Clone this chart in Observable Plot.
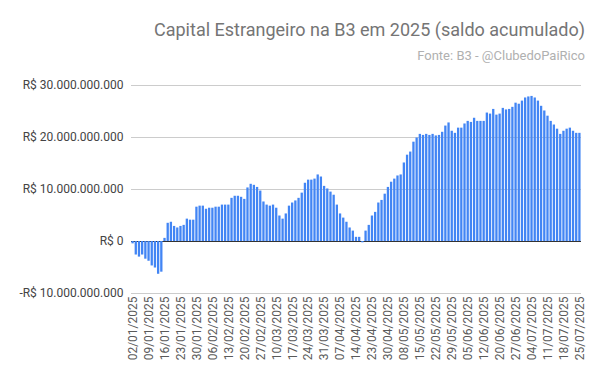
<!DOCTYPE html>
<html>
<head>
<meta charset="utf-8">
<script src="https://cdn.jsdelivr.net/npm/d3@7"></script>
<script src="https://cdn.jsdelivr.net/npm/@observablehq/plot@0.6"></script>
<style>
  html, body { margin: 0; padding: 0; background: #fff; }
  #wrap { position: relative; width: 600px; height: 385px; font-family: Roboto, sans-serif; overflow: hidden; }
  #title { position: absolute; right: 15px; top: 19px; font-size: 18px; color: #757575; white-space: nowrap; }
  #subtitle { position: absolute; right: 15px; top: 48px; font-size: 13px; color: #b0b0b0; white-space: nowrap; }
  #chart { position: absolute; left: 0; top: 0; }
</style>
</head>
<body>
<div id="wrap">
  <div id="chart"></div>
  <div id="title">Capital Estrangeiro na B3 em 2025 (saldo acumulado)</div>
  <div id="subtitle">Fonte: B3 - @ClubedoPaiRico</div>
</div>
<script>
// Trading days (B3) per month, 2025
const janDays = ["02","03","06","07","08","09","10","13","14","15","16","17","20","21","22","23","24","27","28","29","30","31"];
const febDays = ["03","04","05","06","07","10","11","12","13","14","17","18","19","20","21","24","25","26","27","28"];
const marDays = ["05","06","07","10","11","12","13","14","17","18","19","20","21","24","25","26","27","28","31"];
const aprDays = ["01","02","03","04","07","08","09","10","11","14","15","16","17","22","23","24","25","28","29","30"];
const mayDays = ["02","05","06","07","08","09","12","13","14","15","16","19","20","21","22","23","26","27","28","29","30"];
const junDays = ["02","03","04","05","06","09","10","11","12","13","16","17","18","20","23","24","25","26","27","30"];
const julDays = ["01","02","03","04","07","08","09","10","11","14","15","16","17","18","21","22","23","24","25"];

// Cumulative balance, in billions of R$
const saldoBi = [
  -0.45, -2.6, -3.0, -2.6, -3.4, -3.8, -4.7, -5.1, -6.3, -5.9,
  0.6, 3.5, 3.7, 2.9, 2.6, 2.9, 3.1, 4.3, 4.1, 4.1,
  6.6, 6.8, 6.8, 6.2, 6.4, 6.4, 6.6, 6.6, 7.0, 7.0,
  7.0, 8.3, 8.7, 8.7, 8.5, 8.1, 10.3, 11.0, 10.8, 10.4,
  9.7, 7.6, 7.0, 6.8, 7.0, 6.4, 4.9, 4.3, 5.3, 6.8,
  7.4, 7.8, 8.3, 9.3, 11.2, 11.8, 11.8, 12.0, 12.8, 12.4,
  10.6, 10.1, 9.5, 8.9, 7.0, 5.3, 4.5, 3.7, 2.6, 2.0,
  0.8, 0.8, -0.25, 2.0, 3.1, 4.9, 5.6, 7.4, 7.9, 9.1,
  10.4, 11.4, 12.0, 12.6, 12.8, 15.1, 16.6, 17.2, 19.1, 19.9,
  20.6, 20.4, 20.6, 20.4, 20.6, 20.3, 20.4, 21.0, 22.2, 22.8,
  21.2, 20.8, 21.8, 21.8, 22.6, 23.1, 22.9, 23.7, 23.1, 23.1,
  23.1, 24.7, 24.5, 25.4, 24.3, 24.5, 25.6, 25.3, 25.4, 25.8,
  26.6, 26.4, 27.0, 27.6, 27.8, 27.9, 27.6, 27.0, 26.0, 25.1,
  24.1, 23.1, 22.4, 21.6, 20.6, 21.2, 21.6, 21.8, 21.2, 20.8,
  20.8
];

const yTickValues = [-10e9, 0, 10e9, 20e9, 30e9];
const labelEvery = 5;

const months = [["01", janDays], ["02", febDays], ["03", marDays], ["04", aprDays], ["05", mayDays], ["06", junDays], ["07", julDays]];
const dates = months.flatMap(([m, days]) => days.map(d => `${d}/${m}/2025`));
const data = dates.map((date, i) => ({date, value: saldoBi[i] * 1e9}));
const xTicks = dates.filter((d, i) => i % labelEvery === 0);

const br = d3.formatLocale({decimal: ",", thousands: ".", grouping: [3], currency: ["R$ ", ""], minus: "-"});
const fmt = br.format("$,.0f");

const chart = Plot.plot({
  width: 600,
  height: 385,
  marginTop: 85,
  marginBottom: 92,
  marginLeft: 131,
  marginRight: 19,
  style: {fontFamily: "Roboto, sans-serif", background: "transparent", overflow: "visible"},
  x: {type: "band", domain: dates, paddingInner: 0.28, paddingOuter: 0.14, round: false, axis: null, label: null},
  y: {domain: [-10e9, 30e9], axis: null, label: null},
  marks: [
    Plot.gridY(yTickValues.filter(v => v !== 0), {stroke: "#cccccc", strokeOpacity: 1, strokeWidth: 1}),
    Plot.ruleY([0], {stroke: "#333333", strokeWidth: 1}),
    Plot.barY(data, {x: "date", y: "value", fill: "#4285F4"}),
    Plot.axisY(yTickValues, {tickSize: 0, tickPadding: 8, tickFormat: fmt, fontSize: 12, color: "#444444", label: null}),
    Plot.axisX(xTicks, {tickSize: 0, tickPadding: 3, tickRotate: -90, fontSize: 12, color: "#5a5a5a", label: null})
  ]
});
document.getElementById("chart").appendChild(chart);
</script>
</body>
</html>
